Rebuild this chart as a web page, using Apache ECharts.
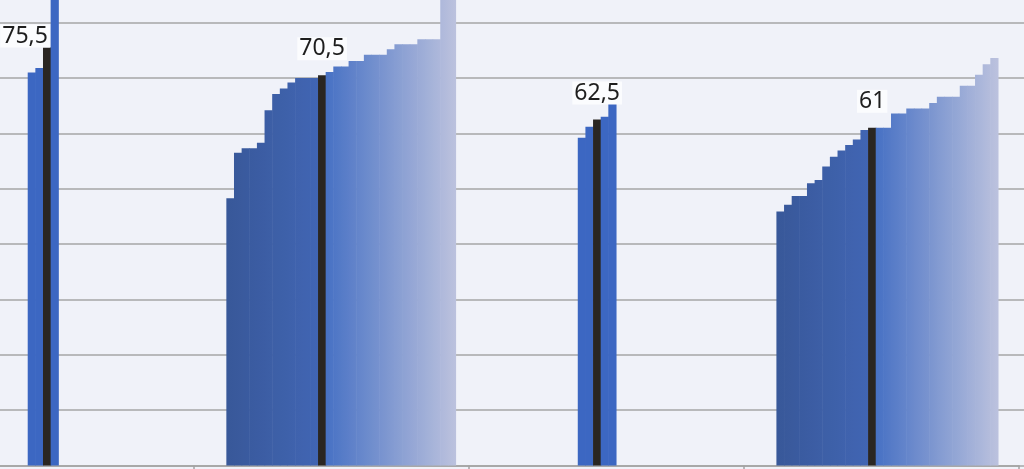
<!DOCTYPE html>
<html>
<head>
<meta charset="utf-8">
<script src="https://cdn.jsdelivr.net/npm/echarts@6/dist/echarts.min.js"></script>
<style>
html,body{margin:0;padding:0;background:#f0f2f9;}
#chart{width:1024px;height:469px;}
</style>
</head>
<body>
<div id="chart"></div>
<script>
// ---------- DATA ----------
const groupNames = ['Grupa 1', 'Grupa 2', 'Grupa 3', 'Grupa 4'];
// sorted individual values of each group (median bar excluded)
const group1 = [71.0, 71.8, 88];
const group2 = [48.3, 56.5, 57.3, 57.3, 58.3, 64.2, 67.1, 68.1, 69.2, 70.0, 70.0, 70.0,
                71.1, 72.1, 72.1, 73.1, 73.1, 74.2, 74.2, 74.2, 75.2, 76.1, 76.1, 76.1,
                77.0, 77.0, 77.0, 88, 88];
const group3 = [59.2, 61.2, 63.0, 65.9];
const group4 = [45.9, 47.1, 48.7, 48.7, 51.0, 51.6, 54.0, 55.8, 56.9, 57.9, 58.9, 60.6,
                61.0, 61.0, 63.6, 63.6, 64.5, 64.5, 64.5, 65.5, 66.6, 66.6, 66.6,
                68.6, 68.6, 70.6, 72.5, 73.6];
const medians = [75.5, 70.5, 62.5, 61];
const medianLabels = ['75,5', '70,5', '62,5', '61'];
const yTicks = [0, 10, 20, 30, 40, 50, 60, 70, 80];

// ---------- LAYOUT / STYLE ----------
const groups = [group1, group2, group3, group4];
const slotCount = 146;                 // fine slots on the hidden bar axis
const groupStartSlot = [15, 41, 87, 113];
const gradientGroup = [false, true, false, true];

function hex(c){return [parseInt(c.slice(1,3),16),parseInt(c.slice(3,5),16),parseInt(c.slice(5,7),16)];}
function mix(a,b,t){const A=hex(a),B=hex(b);return 'rgb('+A.map((v,i)=>Math.round(v+(B[i]-v)*t)).join(',')+')';}
function grad(a,b,t0,t1){
  return new echarts.graphic.LinearGradient(0,0,1,0,[{offset:0,color:mix(a,b,t0)},{offset:1,color:mix(a,b,t1)}]);
}

const slots = [];
for (let i = 0; i < slotCount; i++) slots.push(String(i));
const barData = new Array(slotCount).fill('-');

groups.forEach((vals, gi) => {
  const med = medians[gi];
  const below = vals.filter(v => v < med);
  const above = vals.filter(v => v >= med);
  const seq = below.map(v => ({v, side: 'L'}))
    .concat([{v: med, side: 'M'}])
    .concat(above.map(v => ({v, side: 'R'})));
  seq.forEach((item, k) => {
    const slot = groupStartSlot[gi] + k;
    let color;
    if (item.side === 'M') color = '#2a2622';
    else if (!gradientGroup[gi]) color = '#3c67c2';
    else if (item.side === 'L') {
      const n = below.length;
      color = grad('#385899', '#4165b3', k / n, (k + 1) / n);
    } else {
      const j = k - below.length - 1, n = above.length;
      color = grad('#4771c4', '#bcc2de', j / n, (j + 1) / n);
    }
    const d = {value: item.v, itemStyle: {color}};
    if (item.side === 'M') {
      d.label = {
        show: true, position: 'top', distance: 15,
        formatter: medianLabels[gi],
        fontFamily: 'Noto Sans', fontSize: 23, color: '#1e1e1e',
        backgroundColor: '#fbfcfe', padding: [0, 2],
        offset: gi === 0 ? [-22, 15] : [0, 0]
      };
    }
    barData[slot] = d;
  });
});

const chart = echarts.init(document.getElementById('chart'), null, {renderer: 'canvas'});
chart.setOption({
  backgroundColor: '#f0f2f9',
  animation: false,
  grid: [
    {left: -86.6, right: -4.8, top: 0, bottom: 3.5, outerBoundsMode: 'none', containLabel: false},
    {left: -81, right: 5, top: 0, bottom: 3.5, outerBoundsMode: 'none', containLabel: false}
  ],
  xAxis: [
    {type: 'category', gridIndex: 0, data: slots, show: false},
    {type: 'category', gridIndex: 1, data: groupNames,
     axisLine: {show: true, lineStyle: {color: '#a2a2a2', width: 1.5}},
     axisTick: {show: true, interval: 0, length: 8, lineStyle: {color: '#a2a2a2', width: 1.5}},
     axisLabel: {show: false}, splitLine: {show: false}}
  ],
  yAxis: [
    {type: 'value', gridIndex: 0, min: yTicks[0], max: 84.1, interval: 10,
     axisLine: {show: false}, axisTick: {show: false}, axisLabel: {show: false},
     splitLine: {show: true, showMaxLine: false, lineStyle: {color: '#a6a6a6', width: 1.5}}},
    {type: 'value', gridIndex: 1, min: 0, max: 1, show: false, splitLine: {show: false}}
  ],
  series: [
    {type: 'bar', xAxisIndex: 0, yAxisIndex: 0, data: barData,
     barWidth: 8.2, barGap: '-100%', clip: true}
  ]
});
</script>
</body>
</html>
